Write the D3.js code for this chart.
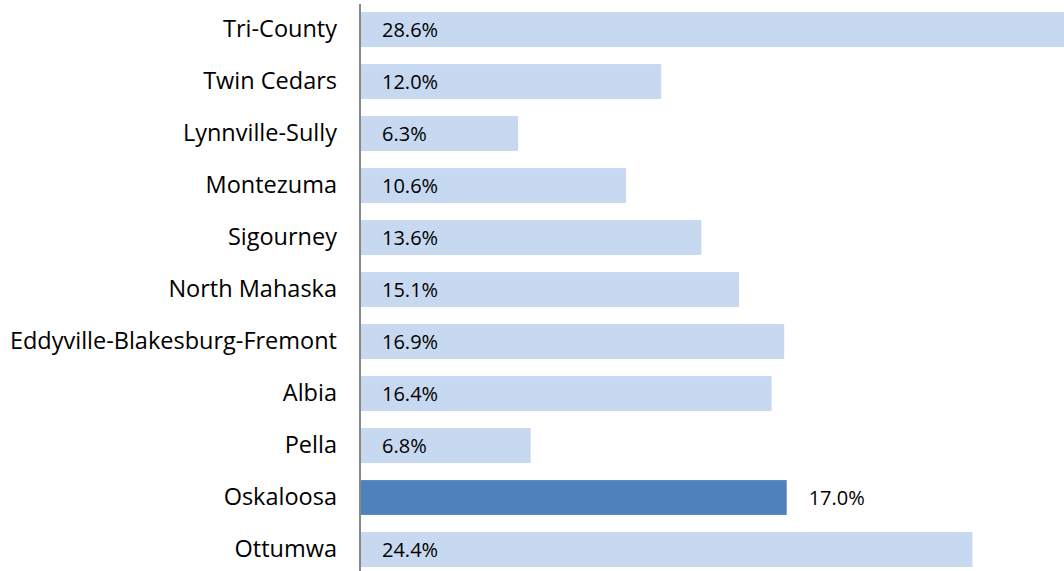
<!DOCTYPE html>
<html>
<head>
<meta charset="utf-8">
<script src="https://cdn.jsdelivr.net/npm/d3@7"></script>
<style>
  body { margin: 0; background: #fff; }
  svg { display: block; }
</style>
</head>
<body>
<script>
// districts, top to bottom
var districts = ["Tri-County", "Twin Cedars", "Lynnville-Sully", "Montezuma", "Sigourney",
    "North Mahaska", "Eddyville-Blakesburg-Fremont", "Albia", "Pella", "Oskaloosa", "Ottumwa"];
var values = [28.6, 12.0, 6.3, 10.6, 13.6, 15.1, 16.9, 16.4, 6.8, 17.0, 24.4];
var highlight = "Oskaloosa";

var width = 1064,
    height = 571;

var data = districts.map(function(d, i) {
    return {name: d, value: values[i]};
});

var svg = d3.select("body").append("svg")
    .attr("width", width)
    .attr("height", height);

var x = d3.scaleLinear()
    .domain([0, 30])
    .range([360, 360 + 25.1 * 30]);

var y = d3.scaleBand()
    .domain(districts)
    .range([3.5, 575.5])
    .paddingInner(0.33)
    .paddingOuter(0.165);

// bars
svg.append("g")
    .selectAll("rect")
    .data(data)
    .enter()
    .append("rect")
    .attr("x", x(0))
    .attr("y", function(d) { return y(d.name); })
    .attr("width", function(d) { return x(d.value) - x(0); })
    .attr("height", y.bandwidth())
    .attr("fill", function(d) {
        return d.name === highlight ? "#4f81bd" : "#c6d9f0";
    });

// value labels: inside near the axis, outside for the highlighted bar
svg.append("g")
    .selectAll("text")
    .data(data)
    .enter()
    .append("text")
    .attr("x", function(d) {
        return d.name === highlight ? x(d.value) + 22 : x(0) + 22;
    })
    .attr("y", function(d) { return y(d.name) + y.bandwidth() / 2; })
    .attr("dy", "0.35em")
    .style("font-family", "'Open Sans', sans-serif")
    .style("font-size", "20px")
    .attr("fill", "#000")
    .text(function(d) { return d.value.toFixed(1) + "%"; });

// category axis
var axis = svg.append("g")
    .attr("transform", "translate(" + x(0) + ",0)")
    .call(d3.axisLeft(y).tickSize(0).tickPadding(23));

axis.select(".domain").remove();
axis.selectAll("text")
    .style("font-family", "'Open Sans', sans-serif")
    .style("font-size", "23.5px")
    .attr("fill", "#000");

svg.append("line")
    .attr("x1", x(0))
    .attr("x2", x(0))
    .attr("y1", 4)
    .attr("y2", height)
    .attr("stroke", "#888")
    .attr("stroke-width", 2);
</script>
</body>
</html>
